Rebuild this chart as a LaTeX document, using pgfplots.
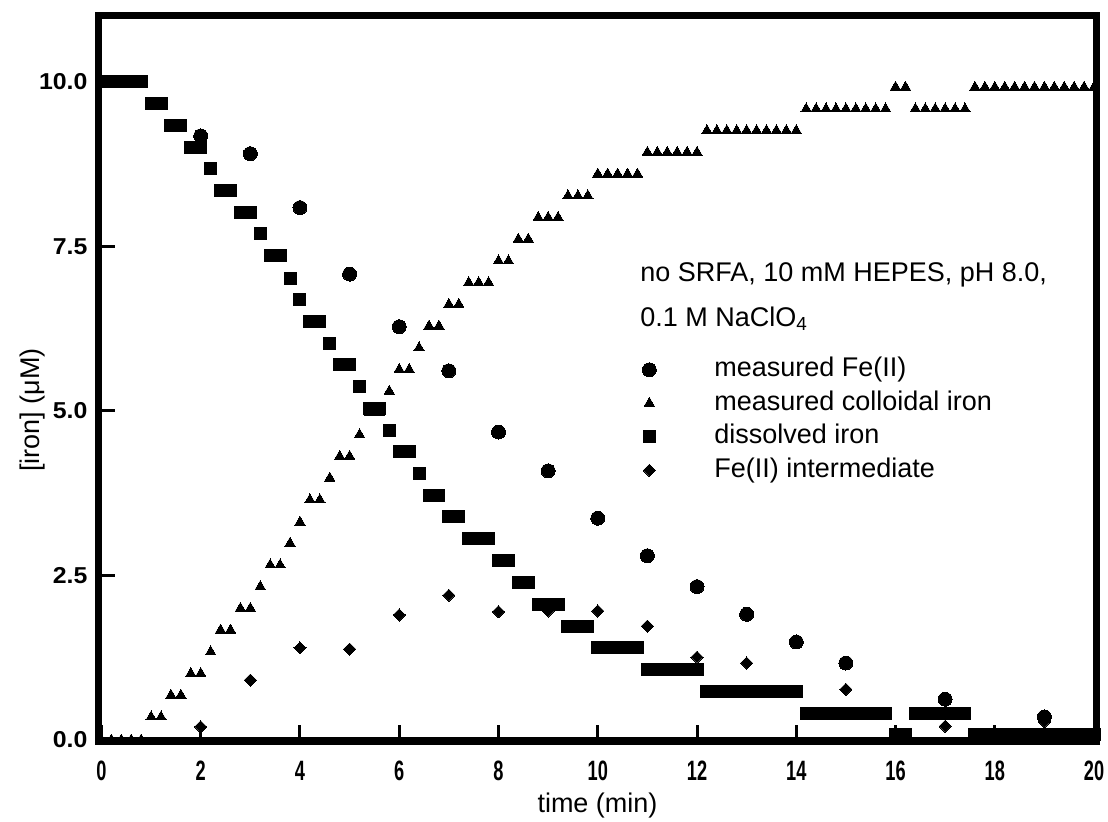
\documentclass[border=0pt]{standalone}
\usepackage{fontspec}
\setmainfont{Liberation Sans}
\usepackage{graphicx}
\usepackage{pgfplots}
\pgfplotsset{compat=1.18}

\pgfplotstableread{
t v
0.0 10.0
0.2 10.0
0.4 10.0
0.6 10.0
0.8 10.0
1.0 9.67
1.2 9.67
1.4 9.34
1.6 9.34
1.8 9.01
2.0 9.01
2.2 8.68
2.4 8.35
2.6 8.35
2.8 8.02
3.0 8.02
3.2 7.69
3.4 7.36
3.6 7.36
3.8 7.02
4.0 6.69
4.2 6.36
4.4 6.36
4.6 6.03
4.8 5.70
5.0 5.70
5.2 5.37
5.4 5.04
5.6 5.04
5.8 4.71
6.0 4.38
6.2 4.38
6.4 4.05
6.6 3.72
6.8 3.72
7.0 3.39
7.2 3.39
7.4 3.06
7.6 3.06
7.8 3.06
8.0 2.73
8.2 2.73
8.4 2.39
8.6 2.39
8.8 2.06
9.0 2.06
9.2 2.06
9.4 1.73
9.6 1.73
9.8 1.73
10.0 1.40
10.2 1.40
10.4 1.40
10.6 1.40
10.8 1.40
11.0 1.07
11.2 1.07
11.4 1.07
11.6 1.07
11.8 1.07
12.0 1.07
12.2 0.74
12.4 0.74
12.6 0.74
12.8 0.74
13.0 0.74
13.2 0.74
13.4 0.74
13.6 0.74
13.8 0.74
14.0 0.74
14.2 0.41
14.4 0.41
14.6 0.41
14.8 0.41
15.0 0.41
15.2 0.41
15.4 0.41
15.6 0.41
15.8 0.41
16.0 0.08
16.2 0.08
16.4 0.41
16.6 0.41
16.8 0.41
17.0 0.41
17.2 0.41
17.4 0.41
17.6 0.08
17.8 0.08
18.0 0.08
18.2 0.08
18.4 0.08
18.6 0.08
18.8 0.08
19.0 0.08
19.2 0.08
19.4 0.08
19.6 0.08
19.8 0.08
20.0 0.08
}\dissolved

\pgfplotstableread{
t v
0.0 0.0
0.2 0.0
0.4 0.0
0.6 0.0
0.8 0.0
1.0 0.35
1.2 0.35
1.4 0.68
1.6 0.68
1.8 1.01
2.0 1.01
2.2 1.34
2.4 1.67
2.6 1.67
2.8 2.00
3.0 2.00
3.2 2.33
3.4 2.66
3.6 2.66
3.8 2.99
4.0 3.31
4.2 3.65
4.4 3.65
4.6 3.98
4.8 4.31
5.0 4.31
5.2 4.64
5.4 4.97
5.6 4.97
5.8 5.30
6.0 5.63
6.2 5.63
6.4 5.96
6.6 6.29
6.8 6.29
7.0 6.62
7.2 6.62
7.4 6.95
7.6 6.95
7.8 6.95
8.0 7.28
8.2 7.28
8.4 7.61
8.6 7.61
8.8 7.94
9.0 7.94
9.2 7.94
9.4 8.27
9.6 8.27
9.8 8.27
10.0 8.60
10.2 8.60
10.4 8.60
10.6 8.60
10.8 8.60
11.0 8.93
11.2 8.93
11.4 8.93
11.6 8.93
11.8 8.93
12.0 8.93
12.2 9.26
12.4 9.26
12.6 9.26
12.8 9.26
13.0 9.26
13.2 9.26
13.4 9.26
13.6 9.26
13.8 9.26
14.0 9.26
14.2 9.59
14.4 9.59
14.6 9.59
14.8 9.59
15.0 9.59
15.2 9.59
15.4 9.59
15.6 9.59
15.8 9.59
16.0 9.92
16.2 9.92
16.4 9.59
16.6 9.59
16.8 9.59
17.0 9.59
17.2 9.59
17.4 9.59
17.6 9.92
17.8 9.92
18.0 9.92
18.2 9.92
18.4 9.92
18.6 9.92
18.8 9.92
19.0 9.92
19.2 9.92
19.4 9.92
19.6 9.92
19.8 9.92
20.0 9.92
}\colloid

\pgfplotstableread{
t v
2 9.18
3 8.91
4 8.09
5 7.08
6 6.28
7 5.61
8 4.68
9 4.09
10 3.37
11 2.80
12 2.33
13 1.91
14 1.49
15 1.17
17 0.62
19 0.35
}\feII

\pgfplotstableread{
t v
2 0.20
3 0.91
4 1.40
5 1.38
6 1.90
7 2.20
8 1.95
9 1.96
10 1.96
11 1.73
12 1.26
13 1.17
15 0.77
17 0.21
19 0.28
}\inter

\begin{document}
\begin{tikzpicture}
\begin{axis}[
  scale only axis, width=499pt, height=362.75pt,
  xmin=-0.06, xmax=20.05, ymin=-0.015, ymax=11.01,
  axis line style={line width=3.6pt, black},
  tick style={line width=1.5pt, black},
  major tick length=8pt,
  tick align=inside,
  tick pos=left,
  xtick={0,2,...,20}, ytick={0,2.5,5,7.5,10},
  minor tick num=0,
  /pgf/number format/assume math mode=true,
  xticklabel={\scalebox{0.65}[1]{\pgfmathprintnumber{\tick}}},
  yticklabel={\scalebox{1.08}[1]{\pgfmathprintnumber[fixed,fixed zerofill,precision=1]{\tick}}},
  xticklabel style={font=\fontsize{14}{14}\selectfont\bfseries, yshift=-6.5pt},
  yticklabel style={font=\fontsize{11.5}{11.5}\selectfont\bfseries, xshift=-2pt},
  xlabel={time (min)}, ylabel={[iron] (μM)},
  label style={font=\fontsize{13.5}{13.5}\selectfont},
  xlabel style={at={(axis description cs:0.5,-0.098)}, anchor=base},
  ylabel style={at={(axis description cs:-0.066,0.456)}, anchor=center},
  clip=false,
  legend cell align=left,
  legend style={at={(axis cs:10.87,5.86)}, anchor=north west, draw=none, fill=none,
    inner sep=0pt, font=\fontsize{13.5}{13.5}\selectfont,
    nodes={inner sep=1pt, text height=10pt, text depth=3pt},
    row sep=1.75pt, column sep=7.5pt},
  legend image code/.code={\path[draw=none, fill=none] (-4pt,-4pt) rectangle (24pt,4pt); \draw[#1] plot coordinates {(0pt,0pt)};},
]
\addplot[only marks, mark=*, mark size=3.5pt, black, mark options={line width=0pt, fill=black}] table[x=t, y=v] {\feII};
\addlegendentry{measured Fe(II)}
\addplot[only marks, mark=triangle*, mark size=3pt, black, mark options={line width=0pt, fill=black}] table[x=t, y=v] {\colloid};
\addlegendentry{measured colloidal iron}
\addplot[only marks, mark=square*, mark size=3pt, black, mark options={line width=0pt, fill=black}] table[x=t, y=v] {\dissolved};
\addlegendentry{dissolved iron}
\addplot[only marks, mark=square*, mark size=2.15pt, black, mark options={line width=0pt, fill=black, rotate=45}] table[x=t, y=v] {\inter};
\addlegendentry{Fe(II) intermediate}
\node[anchor=base west, inner sep=0pt, font=\fontsize{13.5}{13.5}\selectfont] at (axis cs:10.85,6.975) {no SRFA, 10 mM HEPES, pH 8.0,};
\node[anchor=base west, inner sep=0pt, font=\fontsize{13.5}{13.5}\selectfont] at (axis cs:10.85,6.29) {0.1 M NaClO\textsubscript{4}};
\end{axis}
\pgfresetboundingbox
\path[use as bounding box] ([shift={(-49.25pt,-40.5pt)}]current axis.south west) rectangle ([shift={(5.75pt,7.75pt)}]current axis.north east);
\end{tikzpicture}
\end{document}
